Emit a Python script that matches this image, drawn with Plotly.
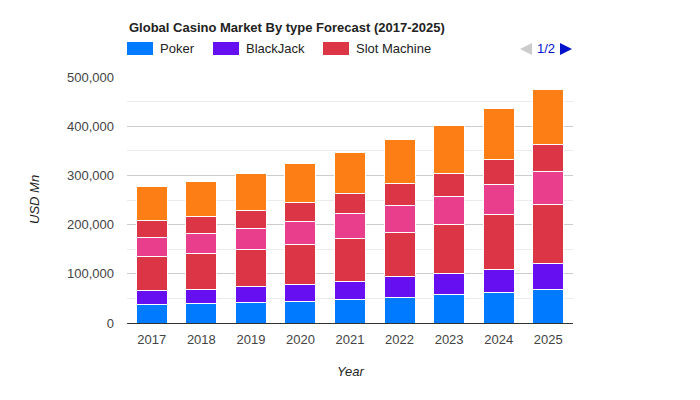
import plotly.graph_objects as go

years = ["2017", "2018", "2019", "2020", "2021", "2022", "2023", "2024", "2025"]
poker = [38500, 40500, 42600, 44200, 48300, 52300, 57800, 62500, 68700]
blackjack = [28400, 28400, 32400, 34700, 36700, 41500, 43500, 46900, 53000]
slot_machine = [68900, 73000, 75000, 81500, 87700, 91100, 99900, 110200, 118300]
roulette = [38500, 40500, 42600, 44900, 48900, 53700, 56400, 61200, 67300]
baccarat = [34500, 34500, 36500, 39400, 40800, 44900, 46900, 50900, 55000]
others = [69600, 71600, 75600, 80200, 85000, 89700, 97900, 104700, 112900]

series_names = ["Poker", "BlackJack", "Slot Machine", "Roulette", "Baccarat", "Others"]
series_values = [poker, blackjack, slot_machine, roulette, baccarat, others]
colors = ["#007bff", "#6610f2", "#dc3545", "#e83e8c", "#dc3545", "#fd7e14"]

title_text = "Global Casino Market By type Forecast (2017-2025)"
y_title = "USD Mn"
x_title = "Year"
y_ticks = [0, 100000, 200000, 300000, 400000, 500000]

FONT = "Arial, 'Liberation Sans', sans-serif"

# page offset (default body margin) and figure size
OFF = 8
W_FIG, H_FIG = 692, 392
# plot area in window pixels
L, R, T, B = 127, 573, 77, 323


def px(x):
    return (x - L) / (R - L)


def py(y):
    return (B - y) / (B - T)


fig = go.Figure()
for name, vals, col in zip(series_names, series_values, colors):
    fig.add_trace(go.Bar(
        x=years, y=vals, name=name,
        marker=dict(color=col, line=dict(color="white", width=1)),
        showlegend=False,
    ))

shapes = []
annotations = []

# title
annotations.append(dict(
    text="<b>" + title_text + "</b>", xref="paper", yref="paper",
    x=px(127), y=py(28), xanchor="left", yanchor="middle",
    showarrow=False, font=dict(family=FONT, size=13, color="#222222"),
))

# legend (page 1 of 2)
legend_items = [(127, "Poker", colors[0]), (213, "BlackJack", colors[1]), (323, "Slot Machine", colors[2])]
for x0, name, col in legend_items:
    shapes.append(dict(type="rect", xref="paper", yref="paper",
                       x0=px(x0), x1=px(x0 + 26), y0=py(55), y1=py(42),
                       fillcolor=col, line=dict(width=0)))
    annotations.append(dict(
        text=name, xref="paper", yref="paper", x=px(x0 + 31), y=py(48.5),
        xanchor="left", yanchor="middle", showarrow=False,
        font=dict(family=FONT, size=13, color="#222222"),
    ))

# pager
shapes.append(dict(type="path", xref="paper", yref="paper",
                   path=f"M {px(532)} {py(43)} L {px(520)} {py(49)} L {px(532)} {py(55)} Z",
                   fillcolor="#cccccc", line=dict(width=0)))
shapes.append(dict(type="path", xref="paper", yref="paper",
                   path=f"M {px(560)} {py(43)} L {px(572)} {py(49)} L {px(560)} {py(55)} Z",
                   fillcolor="#0011cc", line=dict(width=0)))
annotations.append(dict(
    text="1/2", xref="paper", yref="paper", x=px(546), y=py(48.5),
    xanchor="center", yanchor="middle", showarrow=False,
    font=dict(family=FONT, size=13, color="#0011cc"),
))

# axis titles
annotations.append(dict(
    text="<i>" + y_title + "</i>", xref="paper", yref="paper", x=px(34), y=py(200),
    xanchor="center", yanchor="middle", textangle=-90, showarrow=False,
    font=dict(family=FONT, size=13, color="#222222"),
))
annotations.append(dict(
    text="<i>" + x_title + "</i>", xref="paper", yref="paper", x=px(350), y=py(371),
    xanchor="center", yanchor="middle", showarrow=False,
    font=dict(family=FONT, size=13, color="#222222"),
))

fig.update_layout(
    barmode="stack",
    bargap=0.375,
    width=W_FIG, height=H_FIG,
    margin=dict(l=L - OFF, r=W_FIG - (R - OFF), t=T - OFF, b=H_FIG - (B - OFF), pad=0),
    paper_bgcolor="white", plot_bgcolor="white",
    font=dict(family=FONT, size=13, color="#444444"),
    shapes=shapes, annotations=annotations,
    showlegend=False,
    xaxis=dict(
        type="category", showgrid=False, showline=True, linecolor="#333333", linewidth=1,
        ticks="", tickfont=dict(size=13, color="#444444"), ticklabelstandoff=4,
    ),
    yaxis=dict(
        range=[0, 500000], tickvals=y_ticks, tickformat=",",
        showgrid=True, gridcolor="#cccccc", gridwidth=1, zeroline=False,
        minor=dict(dtick=50000, showgrid=True, gridcolor="#ebebeb", gridwidth=1),
        ticks="", tickfont=dict(size=13, color="#444444"), ticklabelstandoff=12,
    ),
)

fig.write_html("out.html")
